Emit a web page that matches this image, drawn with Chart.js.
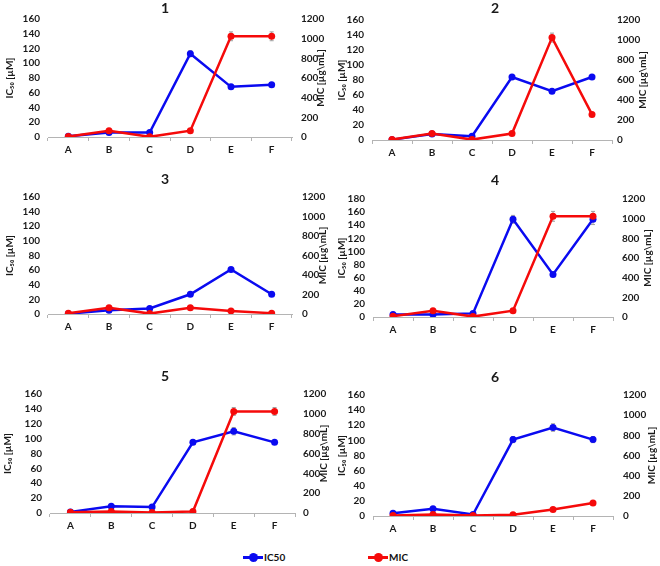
<!DOCTYPE html>
<html lang="en">
<head>
<meta charset="UTF-8" />
<meta name="viewport" content="width=device-width, initial-scale=1" />
<title>IC50 and MIC panels</title>
<style>
  body {
    margin: 0;
    background: #fff;
    font-family: "Liberation Sans Narrow", Lato, Arial, sans-serif;
  }
  #page {
    position: relative;
    width: 660px;
    height: 566px;
    overflow: hidden;
  }
  #page canvas {
    position: absolute;
  }
  .legend-item {
    position: absolute;
    top: 551px;
    height: 12px;
    display: flex;
    align-items: center;
    font: bold 10px "Liberation Sans Narrow", Lato, Arial, sans-serif;
    color: #111;
  }
  .swatch {
    position: relative;
    width: 20px;
    height: 3px;
    margin-right: 1px;
  }
  .swatch::after {
    content: '';
    position: absolute;
    left: 6px;
    top: -3px;
    width: 9px;
    height: 9px;
    border-radius: 50%;
    background: inherit;
  }
</style>
</head>
<body>
  <div id="page">
    <div class="legend-item" style="left:243px"><span class="swatch" style="background:#0a0af0"></span>IC50</div>
    <div class="legend-item" style="left:368px"><span class="swatch" style="background:#f50a0a"></span>MIC</div>
  </div>

  <script src="https://cdn.jsdelivr.net/npm/chart.js"></script>
  <script>
    // values
    const categories = ['A', 'B', 'C', 'D', 'E', 'F'];

    const ic50_1 = [1, 6, 6, 113, 68, 71];
    const mic_1 = [4, 64, 2, 64, 1024, 1024];
    const ic50Err_1 = [0, 0, 0, 4, 2, 2];
    const micErr_1 = [0, 0, 0, 0, 45, 45];

    const ic50_2 = [0.5, 8, 5, 84, 65, 84];
    const mic_2 = [4, 64, 4, 64, 1024, 256];
    const ic50Err_2 = [0, 0, 0, 2, 2, 2];
    const micErr_2 = [0, 0, 0, 0, 45, 0];

    const ic50_3 = [0.5, 5, 7.5, 27, 61, 27];
    const mic_3 = [8, 64, 4, 64, 32, 8];
    const ic50Err_3 = [0, 0, 0, 1, 2, 1];
    const micErr_3 = [0, 0, 0, 0, 0, 0];

    const ic50_4 = [4, 4, 5.5, 149, 65, 149];
    const mic_4 = [8, 64, 4, 64, 1024, 1024];
    const ic50Err_4 = [0, 0, 0, 6, 2, 8];
    const micErr_4 = [0, 0, 0, 0, 50, 50];

    const ic50_5 = [1.5, 9, 8, 95, 110, 95];
    const mic_5 = [8, 16, 4, 16, 1024, 1024];
    const ic50Err_5 = [0, 0, 0, 3, 5, 2];
    const micErr_5 = [0, 0, 0, 0, 40, 40];

    const ic50_6 = [3.5, 9.5, 2, 101, 117, 101];
    const mic_6 = [4, 16, 4, 12, 64, 128];
    const ic50Err_6 = [0, 0, 0, 4, 5, 4];
    const micErr_6 = [0, 0, 0, 0, 0, 0];

    const BLUE = '#0a0af0';
    const RED = '#f50a0a';
    const TEXT = '#1a1a1a';
    const AXIS = '#b4b4b4';
    const FAMILY = '"Liberation Sans Narrow", Lato, Arial, sans-serif';
    const tickFont = { family: FAMILY, size: 10, weight: 'bold' };

    // box = canvas on the page, area = plot area inside that canvas
    const panels = [
      { title: '1', ic50: ic50_1, mic: mic_1, ic50Err: ic50Err_1, micErr: micErr_1, leftMax: 160,
        box: { x: 0, y: 0, w: 330, h: 161 }, area: { top: 19, bottom: 137, left: 48, right: 292 },
        leftTitleX: 10, rightTitleX: 321, rightPad: 9 },
      { title: '2', ic50: ic50_2, mic: mic_2, ic50Err: ic50Err_2, micErr: micErr_2, leftMax: 160,
        box: { x: 330, y: 0, w: 330, h: 164 }, area: { top: 20, bottom: 140, left: 42, right: 282 },
        leftTitleX: 12, rightTitleX: 313, rightPad: 5 },
      { title: '3', ic50: ic50_3, mic: mic_3, ic50Err: ic50Err_3, micErr: micErr_3, leftMax: 160,
        box: { x: 0, y: 171, w: 330, h: 167 }, area: { top: 26, bottom: 143, left: 48, right: 292 },
        leftTitleX: 10, rightTitleX: 323, rightPad: 10 },
      { title: '4', ic50: ic50_4, mic: mic_4, ic50Err: ic50Err_4, micErr: micErr_4, leftMax: 180,
        box: { x: 330, y: 172, w: 330, h: 169 }, area: { top: 27, bottom: 145, left: 43, right: 283 },
        leftTitleX: 12, rightTitleX: 318, rightPad: 9 },
      { title: '5', ic50: ic50_5, mic: mic_5, ic50Err: ic50Err_5, micErr: micErr_5, leftMax: 160,
        box: { x: 0, y: 368, w: 330, h: 169 }, area: { top: 26, bottom: 145, left: 50, right: 295 },
        leftTitleX: 8, rightTitleX: 324, rightPad: 8 },
      { title: '6', ic50: ic50_6, mic: mic_6, ic50Err: ic50Err_6, micErr: micErr_6, leftMax: 160,
        box: { x: 330, y: 369, w: 330, h: 171 }, area: { top: 26, bottom: 147, left: 43, right: 283 },
        leftTitleX: 12, rightTitleX: 322, rightPad: 10 }
    ];

    // gray error bars under the lines
    const errorBars = {
      id: 'errorBars',
      beforeDatasetsDraw(chart) {
        const ctx = chart.ctx;
        ctx.save();
        ctx.strokeStyle = '#a0a0a0';
        ctx.lineWidth = 1;
        chart.data.datasets.forEach((ds, i) => {
          if (!ds.errors) return;
          const meta = chart.getDatasetMeta(i);
          const yScale = chart.scales[ds.yAxisID];
          ds.data.forEach((v, j) => {
            const e = ds.errors[j];
            if (!e) return;
            const x = meta.data[j].x;
            const y1 = yScale.getPixelForValue(v + e);
            const y2 = yScale.getPixelForValue(v - e);
            ctx.beginPath();
            ctx.moveTo(x, y1); ctx.lineTo(x, y2);
            ctx.moveTo(x - 2, y1); ctx.lineTo(x + 2, y1);
            ctx.moveTo(x - 2, y2); ctx.lineTo(x + 2, y2);
            ctx.stroke();
          });
        });
        ctx.restore();
      }
    };

    // right axis title reads bottom to top, like the left one
    const rightTitle = {
      id: 'rightTitle',
      afterDraw(chart, args, opts) {
        const ctx = chart.ctx;
        const area = chart.chartArea;
        ctx.save();
        ctx.translate(opts.x, (area.top + area.bottom) / 2);
        ctx.rotate(-Math.PI / 2);
        ctx.textAlign = 'center';
        ctx.textBaseline = 'middle';
        ctx.fillStyle = TEXT;
        ctx.font = 'bold 10px ' + FAMILY;
        ctx.fillText(opts.text, 0, 0);
        ctx.restore();
      }
    };

    const page = document.getElementById('page');

    panels.forEach(p => {
      const canvas = document.createElement('canvas');
      canvas.width = p.box.w;
      canvas.height = p.box.h;
      canvas.style.left = p.box.x + 'px';
      canvas.style.top = p.box.y + 'px';
      page.appendChild(canvas);

      new Chart(canvas.getContext('2d'), {
        type: 'line',
        data: {
          labels: categories,
          datasets: [
            {
              label: 'IC50',
              data: p.ic50,
              errors: p.ic50Err,
              yAxisID: 'y',
              order: 1,
              borderColor: BLUE,
              backgroundColor: BLUE,
              borderWidth: 2.5,
              pointRadius: 3.5,
              pointBorderWidth: 0,
              tension: 0
            },
            {
              label: 'MIC',
              data: p.mic,
              errors: p.micErr,
              yAxisID: 'y1',
              order: 0,
              borderColor: RED,
              backgroundColor: RED,
              borderWidth: 2.5,
              pointRadius: 3.5,
              pointBorderWidth: 0,
              tension: 0
            }
          ]
        },
        options: {
          responsive: false,
          animation: false,
          layout: { padding: 0 },
          plugins: {
            legend: { display: false },
            tooltip: { enabled: false },
            title: {
              display: true,
              text: p.title,
              color: TEXT,
              font: { family: FAMILY, size: 14, weight: 'bold' },
              padding: { top: 0, bottom: p.area.top - 16.8 }
            },
            rightTitle: { x: p.rightTitleX, text: 'MIC [µg\\mL]' }
          },
          scales: {
            x: {
              offset: true,
              grid: { offset: true, drawOnChartArea: false, drawTicks: true, tickLength: 4, color: AXIS },
              border: { color: AXIS, width: 1 },
              ticks: { color: TEXT, font: tickFont, padding: 3, maxRotation: 0 },
              afterFit: s => { s.height = p.box.h - p.area.bottom; }
            },
            y: {
              position: 'left',
              min: 0,
              max: p.leftMax,
              grid: { display: false, drawTicks: false },
              border: { display: false },
              ticks: { stepSize: 20, autoSkip: false, color: TEXT, font: tickFont, padding: 8 },
              title: {
                display: true,
                text: 'IC₅₀ [µM]',
                color: TEXT,
                font: tickFont,
                padding: { top: p.leftTitleX - 6, bottom: 0 }
              },
              afterFit: s => { s.width = p.area.left; }
            },
            y1: {
              position: 'right',
              min: 0,
              max: 1200,
              grid: { display: false, drawTicks: false },
              border: { display: false },
              ticks: {
                stepSize: 200,
                autoSkip: false,
                color: TEXT,
                font: tickFont,
                padding: p.rightPad,
                callback: v => String(v)
              },
              afterFit: s => { s.width = p.box.w - p.area.right; }
            }
          }
        },
        plugins: [errorBars, rightTitle]
      });
    });
  </script>
</body>
</html>
